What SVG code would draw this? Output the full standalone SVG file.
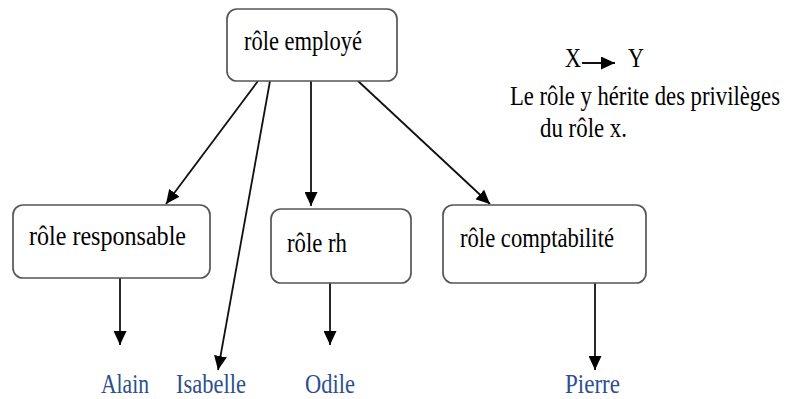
<svg xmlns="http://www.w3.org/2000/svg" width="789" height="399" viewBox="0 0 789 399">
<defs>
<marker id="ah" markerUnits="userSpaceOnUse" markerWidth="15" markerHeight="13" refX="14" refY="6.5" orient="auto">
<path d="M0,0 L14,6.5 L0,13 z" fill="#000"/>
</marker>
<style>
.box{fill:#fff;stroke:#555;stroke-width:1.7}
.t{font-family:"Liberation Serif","Times New Roman",serif;font-size:28px;fill:#000}
.n{font-family:"Liberation Serif","Times New Roman",serif;font-size:27px;fill:#2d4f8e}
.c{stroke:#111;stroke-width:1.8;fill:none;marker-end:url(#ah)}
</style>
</defs>
<rect width="789" height="399" fill="#fff"/>
<g id="connectors">
<line class="c" x1="258" y1="81" x2="166" y2="204"/>
<line class="c" x1="270" y1="81" x2="218" y2="370"/>
<line class="c" x1="311" y1="81" x2="311" y2="206"/>
<line class="c" x1="358" y1="81" x2="490" y2="204"/>
<line class="c" x1="120" y1="278" x2="120" y2="345"/>
<line class="c" x1="330" y1="283" x2="330" y2="345"/>
<line class="c" x1="595" y1="283" x2="595" y2="370"/>
</g>
<g id="role-employe">
<rect class="box" x="227" y="9" width="170" height="72" rx="10"/>
<text class="t" x="244" y="50" textLength="118" lengthAdjust="spacingAndGlyphs">rôle employé</text>
</g>
<g id="role-responsable">
<rect class="box" x="13" y="205" width="197" height="73" rx="10"/>
<text class="t" x="29" y="245" textLength="157" lengthAdjust="spacingAndGlyphs">rôle responsable</text>
</g>
<g id="role-rh">
<rect class="box" x="271" y="209" width="140" height="74" rx="10"/>
<text class="t" x="287" y="252" textLength="60" lengthAdjust="spacingAndGlyphs">rôle rh</text>
</g>
<g id="role-comptabilite">
<rect class="box" x="443" y="205" width="203" height="78" rx="10"/>
<text class="t" x="460" y="247" textLength="154" lengthAdjust="spacingAndGlyphs">rôle comptabilité</text>
</g>
<g id="alain"><text class="n" x="101" y="393" textLength="48" lengthAdjust="spacingAndGlyphs">Alain</text></g>
<g id="isabelle"><text class="n" x="176" y="393" textLength="70" lengthAdjust="spacingAndGlyphs">Isabelle</text></g>
<g id="odile"><text class="n" x="305" y="393" textLength="50" lengthAdjust="spacingAndGlyphs">Odile</text></g>
<g id="pierre"><text class="n" x="565" y="393" textLength="55" lengthAdjust="spacingAndGlyphs">Pierre</text></g>
<g id="legend">
<text class="t" x="565" y="67" textLength="16" lengthAdjust="spacingAndGlyphs">X</text>
<line class="c" x1="582" y1="63" x2="615" y2="63"/>
<text class="t" x="628" y="67" textLength="16" lengthAdjust="spacingAndGlyphs">Y</text>
<text class="t" transform="translate(510,105) scale(1,1.22)" x="0" y="0" style="font-size:23px" textLength="270" lengthAdjust="spacingAndGlyphs">Le rôle y hérite des privilèges</text>
<text class="t" x="540" y="137" textLength="87" lengthAdjust="spacingAndGlyphs">du rôle x.</text>
</g>
</svg>
